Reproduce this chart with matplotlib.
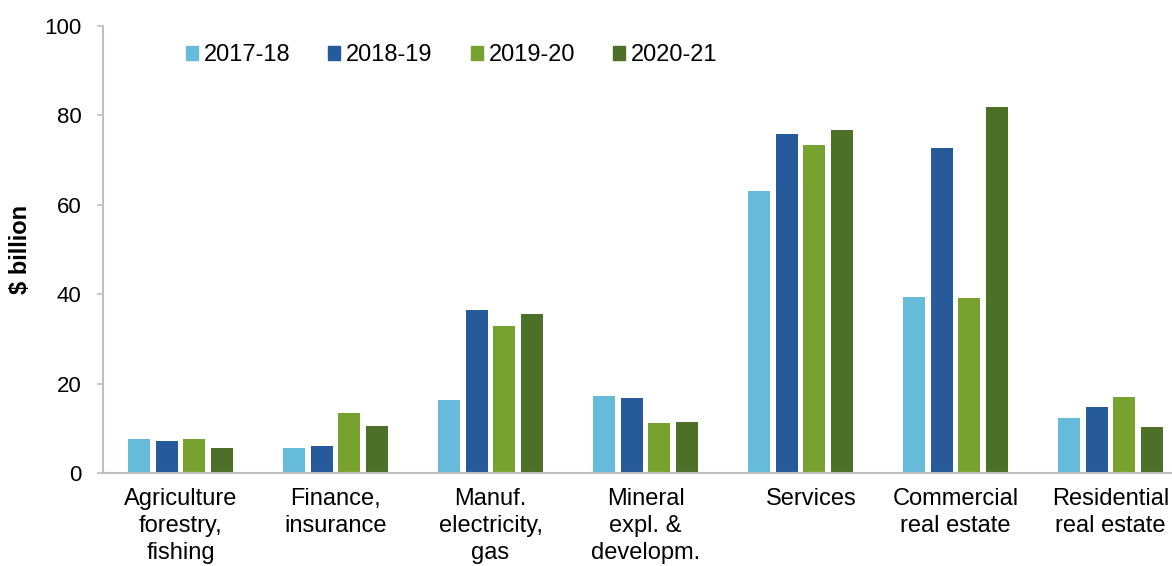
import numpy as np
import matplotlib
matplotlib.use('Agg')
from matplotlib import pyplot as plt
from matplotlib.patches import Patch
from matplotlib.transforms import ScaledTranslation

categories = ['Agriculture\nforestry,\nfishing', 'Finance,\ninsurance', 'Manuf.\nelectricity,\ngas',
              'Mineral\nexpl. &\ndevelopm.', 'Services', 'Commercial\nreal estate', 'Residential\nreal estate']
years = ['2017-18', '2018-19', '2019-20', '2020-21']
v_2017_18 = [7.7, 5.7, 16.4, 17.2, 63.1, 39.3, 12.3]
v_2018_19 = [7.2, 6.1, 36.5, 16.7, 75.8, 72.8, 14.7]
v_2019_20 = [7.5, 13.4, 32.9, 11.1, 73.4, 39.2, 17.0]
v_2020_21 = [5.7, 10.5, 35.6, 11.3, 76.7, 81.9, 10.3]
colors = ['#66BBDA', '#275A9A', '#78A230', '#4D7029']


def main():
    plt.rcParams['font.family'] = ['Liberation Sans', 'DejaVu Sans']
    fig = plt.figure(figsize=(11.72, 5.66), dpi=100)
    # the original chart is cut off on the right, so the axes run past the figure edge
    ax = fig.add_axes([0.0879, 0.1643, 0.9258, 0.7897])

    x = np.arange(len(categories))
    series = [v_2017_18, v_2018_19, v_2019_20, v_2020_21]
    step = 0.179
    for i, vals in enumerate(series):
        ax.bar(x + (i - 1.5) * step, vals, width=0.142, color=colors[i], label=years[i])

    ax.set_xlim(-0.5, len(categories) - 0.5)
    ax.set_ylim(0, 100)
    ax.set_yticks(range(0, 101, 20))
    ax.set_xticks(x)
    ax.set_xticklabels(categories, fontsize=17, linespacing=1.3)
    ax.tick_params(axis='x', length=0, pad=11)
    ax.tick_params(axis='y', labelsize=16, length=4.5, width=1.2, color='#BFBFBF', pad=11)

    # in the original the single-line "Services" label sits a little right of its bars
    lab = ax.get_xticklabels()[4]
    lab.set_transform(lab.get_transform() + ScaledTranslation(0.11, 0, fig.dpi_scale_trans))

    for s in ['top', 'right']:
        ax.spines[s].set_visible(False)
    for s in ['left', 'bottom']:
        ax.spines[s].set_color('#BFBFBF')
        ax.spines[s].set_linewidth(1.5)

    ax.set_ylabel('$ billion', fontsize=17, fontweight='bold')
    ax.yaxis.set_label_coords(-0.0654, 0.5)

    handles = [Patch(color=c, label=y) for c, y in zip(colors, years)]
    ax.legend(handles=handles, loc='center left', bbox_to_anchor=(0.0765, 0.935), ncol=4,
              frameon=False, fontsize=17, handlelength=0.51, handleheight=0.51,
              handletextpad=0.25, columnspacing=1.6, borderpad=0, borderaxespad=0)

    fig.savefig('out.png', dpi=100)


if __name__ == '__main__':
    main()
